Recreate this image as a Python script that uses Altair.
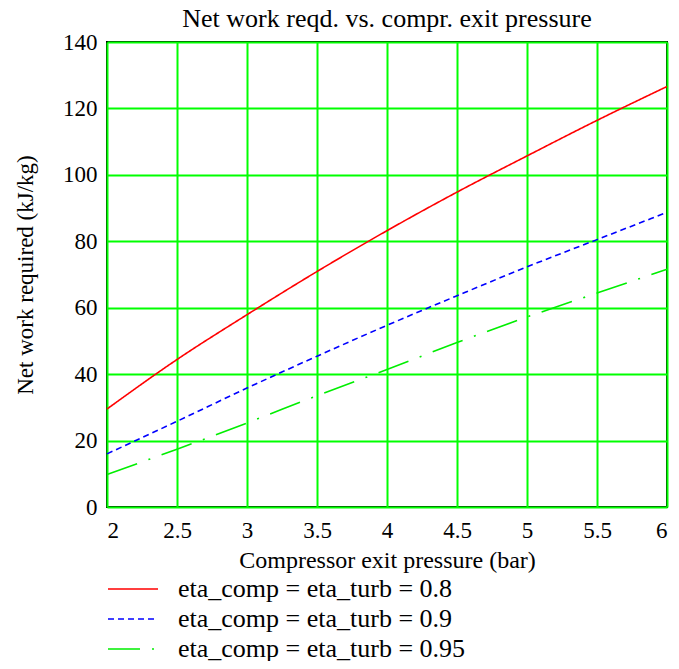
import altair as alt
import pandas as pd

pressure = [2.0, 2.5, 3.0, 3.5, 4.0, 4.5, 5.0, 5.5, 6.0]
work_08 = [29.5, 44.4, 57.9, 70.9, 83.2, 94.8, 105.7, 116.4, 126.6]
work_09 = [16.0, 25.8, 35.8, 45.4, 54.7, 63.6, 72.3, 80.5, 88.7]
work_095 = [9.8, 17.4, 25.3, 33.5, 41.4, 49.5, 57.2, 64.4, 71.6]
series_names = ["eta_comp = eta_turb = 0.8", "eta_comp = eta_turb = 0.9", "eta_comp = eta_turb = 0.95"]
series_colors = ["#ff0000", "#0000ff", "#00ee00"]
series_dashes = [[1, 0], [6, 4], [32, 12, 2, 12]]

rows = []
for name, vals in zip(series_names, [work_08, work_09, work_095]):
    for p, w in zip(pressure, vals):
        rows.append({"p": p, "w": w, "s": name})
df = pd.DataFrame(rows)

FONT = "Liberation Serif"

leg = alt.Legend(title=None, orient="none", legendX=0, legendY=536)

chart = alt.Chart(df).mark_line(strokeWidth=1.6, interpolate="monotone").encode(
    x=alt.X("p:Q", scale=alt.Scale(domain=[2, 6], nice=False),
            axis=alt.Axis(values=pressure, format="~g", title="Compressor exit pressure (bar)",
                          labelPadding=12, titlePadding=6)),
    y=alt.Y("w:Q", scale=alt.Scale(domain=[0, 140], nice=False),
            axis=alt.Axis(values=list(range(0, 141, 20)), title="Net work required (kJ/kg)",
                          labelPadding=10, titlePadding=25, titleFontSize=23)),
    color=alt.Color("s:N", scale=alt.Scale(domain=series_names, range=series_colors), legend=leg),
    strokeDash=alt.StrokeDash("s:N", scale=alt.Scale(domain=series_names, range=series_dashes), legend=leg),
).properties(
    width=560, height=465,
    title=alt.Title("Net work reqd. vs. compr. exit pressure", font=FONT, fontSize=26,
                    fontWeight="normal", color="black", offset=0, dy=1),
    autosize=alt.AutoSizeParams(type="none"),
    padding={"left": 99, "top": 34, "right": 4, "bottom": 154},
).configure_view(
    stroke="black", strokeWidth=2
).configure_axis(
    grid=True, gridColor="#00ff00", gridWidth=2, gridOpacity=1,
    ticks=False, domain=False,
    labelFont=FONT, labelFontSize=23, labelColor="black",
    titleFont=FONT, titleFontSize=24, titleFontWeight="normal", titleColor="black",
).configure_legend(
    labelFont=FONT, labelFontSize=26, labelColor="black", labelLimit=500,
    symbolType="stroke", symbolSize=2500, symbolStrokeWidth=1.6,
    clipHeight=22, rowPadding=4, padding=0,
    labelOffset=19,
)

chart.save("out.html", embed_options={"renderer": "svg", "actions": False})
